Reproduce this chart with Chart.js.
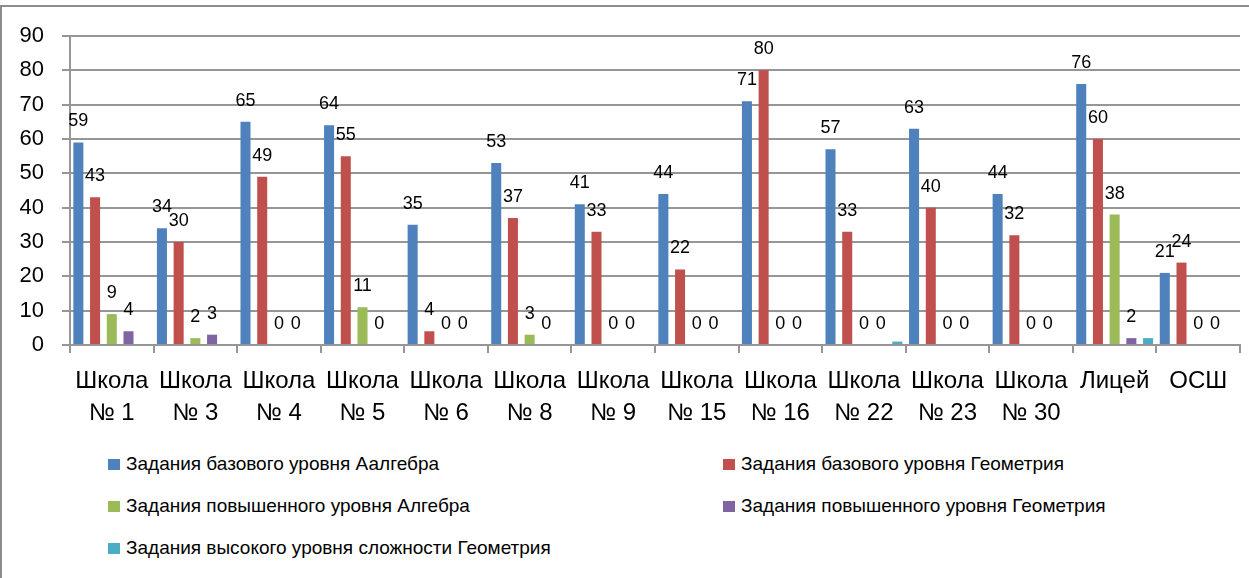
<!DOCTYPE html>
<html>
<head>
<meta charset="utf-8">
<script src="https://cdn.jsdelivr.net/npm/chart.js@4.4.0/dist/chart.umd.min.js"></script>
<style>
  body { margin: 0; background: #fff; font-family: "Liberation Sans", Arial, sans-serif; }
  #frame { position: absolute; left: 0; top: 5px; width: 1300px; height: 640px; border: 2px solid #8c8c8c; }
  #chart { position: absolute; left: 0; top: 0; }
  .item { position: absolute; display: flex; align-items: center; font-size: 19px; line-height: 22px; color: #000; white-space: nowrap; }
  .box { width: 12px; height: 11px; margin-right: 6px; }
</style>
</head>
<body>
<div id="frame"></div>
<canvas id="chart" width="1249" height="440"></canvas>
<div id="legend"></div>
<script>
const schools = [
  ['Школа', '№ 1'], ['Школа', '№ 3'], ['Школа', '№ 4'], ['Школа', '№ 5'],
  ['Школа', '№ 6'], ['Школа', '№ 8'], ['Школа', '№ 9'], ['Школа', '№ 15'],
  ['Школа', '№ 16'], ['Школа', '№ 22'], ['Школа', '№ 23'], ['Школа', '№ 30'],
  'Лицей', 'ОСШ'
];

const baseAlgebra = [59, 34, 65, 64, 35, 53, 41, 44, 71, 57, 63, 44, 76, 21];
const baseGeometry = [43, 30, 49, 55, 4, 37, 33, 22, 80, 33, 40, 32, 60, 24];
const advAlgebra = [9, 2, 0, 11, 0, 3, 0, 0, 0, 0, 0, 0, 38, 0];
const advGeometry = [4, 3, 0, 0, 0, 0, 0, 0, 0, 0, 0, 0, 2, 0];
const highGeometry = [0, 0, 0, 0, 0, 0, 0, 0, 0, 1, 0, 0, 2, 0];

const seriesNames = [
  'Задания базового уровня Аалгебра',
  'Задания базового уровня Геометрия',
  'Задания повышенного уровня Алгебра',
  'Задания повышенного уровня Геометрия',
  'Задания высокого уровня сложности Геометрия'
];
const colors = ['#4f81bd', '#c0504d', '#9bbb59', '#8064a2', '#4bacc6'];
const yTicks = [0, 10, 20, 30, 40, 50, 60, 70, 80, 90];

const gridColor = '#969696';

// value labels above the bars (not for the last series)
const valueLabels = {
  id: 'valueLabels',
  afterDatasetsDraw(chart) {
    const ctx = chart.ctx;
    ctx.save();
    ctx.font = '18px "Liberation Sans", Arial, sans-serif';
    ctx.fillStyle = '#000';
    ctx.textAlign = 'center';
    ctx.textBaseline = 'alphabetic';
    chart.data.datasets.forEach((ds, i) => {
      if (i > 3) return;
      chart.getDatasetMeta(i).data.forEach((bar, j) => {
        ctx.fillText(String(ds.data[j]), bar.x, bar.y - 16);
      });
    });
    ctx.restore();
  }
};

const allData = [baseAlgebra, baseGeometry, advAlgebra, advGeometry, highGeometry];

new Chart(document.getElementById('chart'), {
  type: 'bar',
  data: {
    labels: schools,
    datasets: allData.map((d, i) => ({
      label: seriesNames[i],
      data: d,
      backgroundColor: colors[i],
      borderWidth: 0,
      categoryPercentage: 1,
      barPercentage: 0.6
    }))
  },
  options: {
    responsive: false,
    animation: false,
    layout: { padding: { top: 36, right: 9, left: 0, bottom: 0 } },
    plugins: {
      legend: { display: false },
      tooltip: { enabled: false }
    },
    scales: {
      x: {
        afterFit(scale) { scale.height = 95; },
        grid: { drawOnChartArea: false, color: gridColor, lineWidth: 2, tickLength: 8, offset: true },
        border: { color: gridColor, width: 2 },
        ticks: {
          autoSkip: false, maxRotation: 0, minRotation: 0,
          padding: 12, color: '#000',
          font: { family: '"Liberation Sans", Arial, sans-serif', size: 24, lineHeight: 1.3334 }
        }
      },
      y: {
        min: 0, max: 90,
        afterFit(scale) { scale.width = 70; },
        afterBuildTicks(scale) { scale.ticks = yTicks.map(v => ({ value: v })); },
        grid: { color: gridColor, lineWidth: 2, tickLength: 8 },
        border: { color: gridColor, width: 2 },
        ticks: {
          padding: 18, color: '#000',
          font: { family: '"Liberation Sans", Arial, sans-serif', size: 22 }
        }
      }
    }
  },
  plugins: [valueLabels]
});

// legend in two columns, like the original
const legendPos = [
  { left: 108, top: 464 }, { left: 723, top: 464 },
  { left: 108, top: 506 }, { left: 723, top: 506 },
  { left: 108, top: 548 }
];
const legend = document.getElementById('legend');
seriesNames.forEach((name, i) => {
  const item = document.createElement('div');
  item.className = 'item';
  item.style.left = legendPos[i].left + 'px';
  item.style.top = (legendPos[i].top - 11) + 'px';
  const box = document.createElement('span');
  box.className = 'box';
  box.style.background = colors[i];
  const txt = document.createElement('span');
  txt.textContent = name;
  item.appendChild(box);
  item.appendChild(txt);
  legend.appendChild(item);
});
</script>
</body>
</html>
